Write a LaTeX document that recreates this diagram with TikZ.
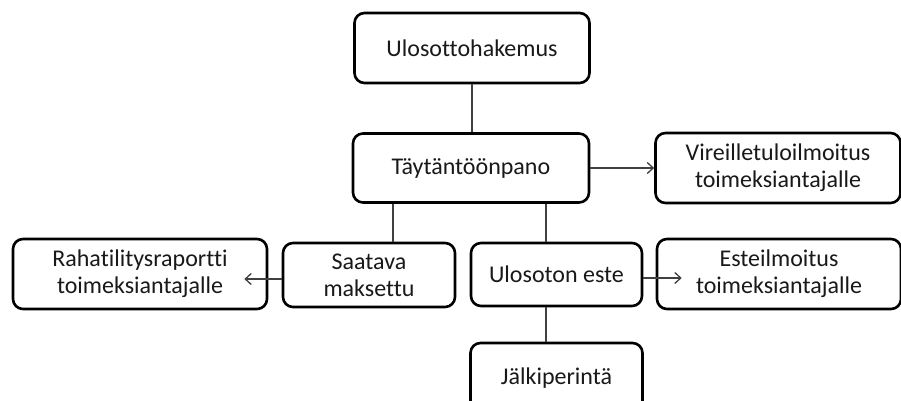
\documentclass[tikz,border=0pt]{standalone}
\usepackage{fontspec}
\setmainfont{Carlito}[Ligatures={NoCommon}]
\usetikzlibrary{arrows.meta}
\tikzset{
  box/.style={draw=black, line width=2.6pt, rounded corners=10pt, fill=white,
    align=center, inner sep=0pt, font=\fontsize{24}{27}\selectfont, text=black!90},
  conn/.style={draw=black!75, line width=1.4pt},
  arr/.style={conn, -{Straight Barb[length=6pt,width=11pt,line width=1.3pt]}}
}
\begin{document}
\begin{tikzpicture}[x=1pt,y=-1pt]
\useasboundingbox (0,0) rectangle (901,401);
\fill[white] (0,0) rectangle (901,401);
\clip (0,0) rectangle (901,401);
% nodes
\node[box, minimum width=235pt, minimum height=70pt] (U) at (472,48) {Ulosottohakemus};
\node[box, minimum width=236pt, minimum height=69pt] (T) at (471,168) {Täytäntöönpano};
\node[box, minimum width=245pt, minimum height=70pt] (V) at (778,168) {Vireilletuloilmoitus\\toimeksiantajalle};
\node[box, minimum width=254pt, minimum height=70pt] (R) at (140,274) {Rahatilitysraportti\\toimeksiantajalle};
\node[box, minimum width=172pt, minimum height=64pt] (S) at (369,275) {Saatava\\maksettu};
\node[box, minimum width=171pt, minimum height=63pt] (E) at (556.5,274.5) {Ulosoton este};
\node[box, minimum width=244pt, minimum height=70pt] (Es) at (779,274) {Esteilmoitus\\toimeksiantajalle};
\node[box, minimum width=172pt, minimum height=70pt] (J) at (556.5,378) {Jälkiperintä};
% connectors
\coordinate (s1) at ([xshift=24pt]S.north);
\coordinate (e1) at ([xshift=-10.5pt]E.north);
\coordinate (e2) at ([xshift=-10.5pt]E.south);
\coordinate (rtip) at ([xshift=-24pt,yshift=-5pt]R.east);
\coordinate (etip) at ([xshift=26pt,yshift=-4pt]Es.west);
\draw[conn] (U.south) -- (U.south |- T.north);
\draw[conn] (s1) -- (s1 |- T.south);
\draw[conn] (e1) -- (e1 |- T.south);
\draw[conn] (e2) -- (e2 |- J.north);
\draw[arr] (T.east) -- (V.west);
\draw[arr] (S.west |- rtip) -- (rtip);
\draw[arr] (E.east |- etip) -- (etip);
\end{tikzpicture}
\end{document}
